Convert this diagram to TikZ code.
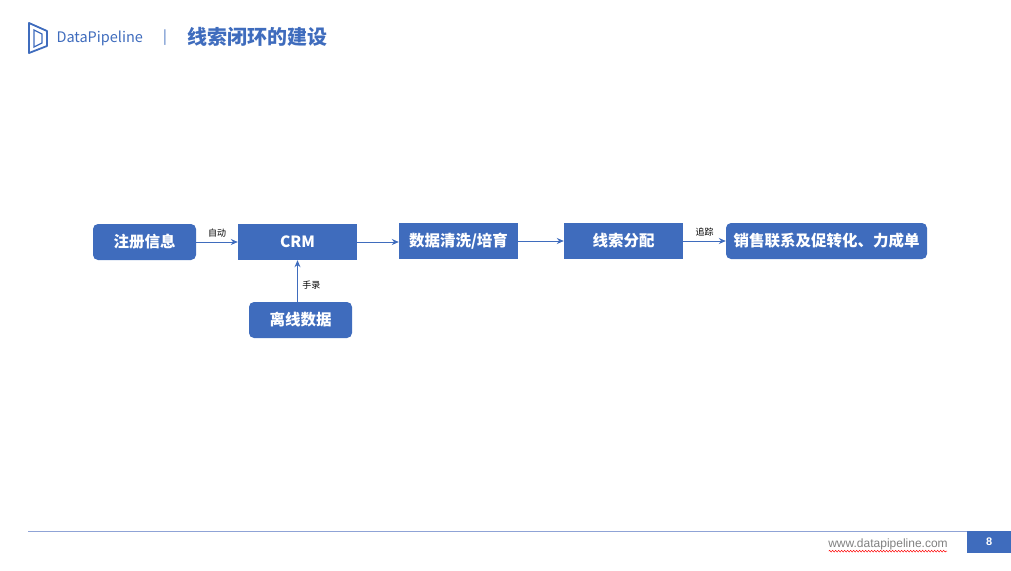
\documentclass[tikz,border=0pt]{standalone}
\usepackage{fontspec}
\setmainfont{Noto Sans CJK SC}
\newfontfamily\latinsans{Liberation Sans}
\usetikzlibrary{arrows.meta,decorations.pathmorphing,calc}
\definecolor{dpblue}{HTML}{3F6CBD}
\definecolor{linegray}{HTML}{8FA3D6}
\tikzset{
  box/.style={fill=dpblue,text=white,font=\fontsize{15.5}{18}\selectfont\bfseries,minimum height=36pt,inner sep=0pt},
  rbox/.style={box,rounded corners=5pt},
  arr/.style={draw=dpblue,line width=0.9pt,-{Stealth[length=7pt,width=6pt]}},
  lbl/.style={font=\fontsize{9}{11}\selectfont,text=black}
}
\begin{document}
\begin{tikzpicture}[x=1pt,y=-1pt]
\useasboundingbox (0,0) rectangle (1011,570);
% logo
\draw[dpblue,line width=1.8pt,line join=round] (29,23) -- (47,31) -- (47,46) -- (29,53) -- cycle;
\draw[dpblue,line width=1.2pt] (34,30) -- (34,47) -- (42,43) -- (42,34) -- cycle;
\node[anchor=west,text=dpblue,font=\fontsize{14.5}{16}\selectfont] (brand) at (53,38) {DataPipeline};
\node[text=dpblue,font=\fontsize{14}{16}\selectfont] (sep) at (165,38) {|};
\node[anchor=west,text=dpblue,font=\fontsize{20}{23}\selectfont\bfseries] (title) at (184,37) {线索闭环的建设};
% nodes
\node[rbox,minimum width=103pt] (reg) at (144.5,242) {注册信息};
\node[box,minimum width=119pt] (crm) at (297.5,242) {CRM};
\node[box,minimum width=119pt] (clean) at (458.5,241) {数据清洗/培育};
\node[box,minimum width=119pt] (assign) at (623.5,241) {线索分配};
\node[rbox,minimum width=201pt] (sales) at (826.5,241) {销售联系及促转化、力成单};
\node[rbox,minimum width=103pt] (off) at (300.5,320) {离线数据};
% connectors
\draw[arr] (reg.east) -- (crm.west |- reg.east) node[lbl,pos=0.5,above=1pt] {自动};
\draw[arr] (crm.east) -- (clean.west |- crm.east);
\draw[arr] (clean.east) -- (assign.west);
\draw[arr] (assign.east) -- (sales.west) node[lbl,pos=0.5,above=1pt] {追踪};
\draw[arr] (off.north -| crm.south) -- (crm.south) node[lbl,pos=0.4,right=1pt] {手录};
% footer
\draw[linegray,line width=0.8pt] (28,531) coordinate (fl) -- (968,531) coordinate (fr);
\node[fill=dpblue,minimum width=44pt,minimum height=22pt,inner sep=0pt,anchor=north west,text=white,font=\latinsans\fontsize{11}{13}\selectfont\bfseries] (page) at (967,531) {8};
\node[text=gray,font=\latinsans\fontsize{12}{14}\selectfont] (url) at (888,544) {www.datapipeline.com};
\draw[red,line width=0.5pt,decoration={snake,amplitude=0.8pt,segment length=3pt},decorate] ($(url.south west)+(4,-2)$) coordinate (ua) -- ($(url.south east)+(-4,-2)$) coordinate (ub);
\end{tikzpicture}
\end{document}
